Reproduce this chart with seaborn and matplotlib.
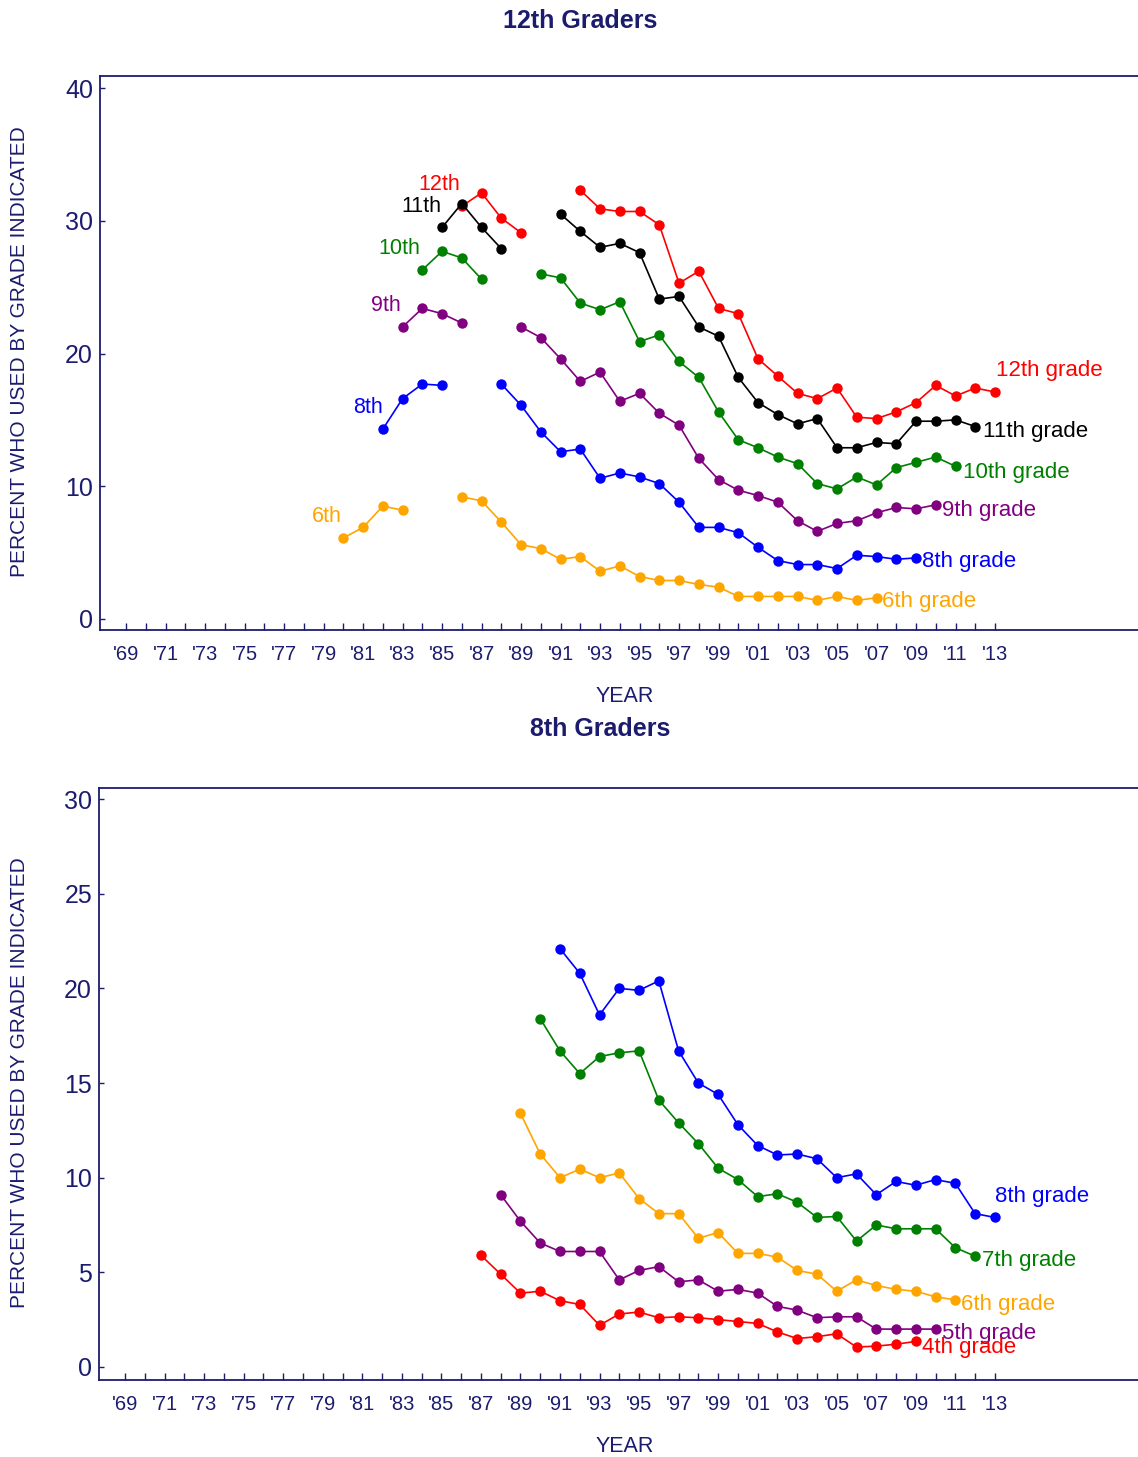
import numpy as np
import pandas as pd
import matplotlib
matplotlib.use("Agg")
import matplotlib.pyplot as plt
import seaborn as sns

# ---------------- data ----------------
top_grades = ["12th", "11th", "10th", "9th", "8th", "6th"]
top_years = {
    "12th": list(range(1986, 1990)) + list(range(1992, 2014)),
    "11th": list(range(1985, 1989)) + list(range(1991, 2013)),
    "10th": list(range(1984, 1988)) + list(range(1990, 2012)),
    "9th": list(range(1983, 1987)) + list(range(1989, 2011)),
    "8th": list(range(1982, 1986)) + list(range(1988, 2010)),
    "6th": list(range(1980, 1984)) + list(range(1986, 2008)),
}
top_values = {
    "12th": [31.1, 32.1, 30.2, 29.1,
             32.3, 30.9, 30.7, 30.7, 29.7, 25.3, 26.2, 23.4, 23.0, 19.6, 18.3,
             17.0, 16.6, 17.4, 15.2, 15.1, 15.6, 16.3, 17.6, 16.8, 17.4, 17.1],
    "11th": [29.5, 31.3, 29.5, 27.9,
             30.5, 29.2, 28.0, 28.3, 27.6, 24.1, 24.3, 22.0, 21.3, 18.2, 16.3,
             15.4, 14.7, 15.1, 12.9, 12.9, 13.3, 13.2, 14.9, 14.9, 15.0, 14.5],
    "10th": [26.3, 27.7, 27.2, 25.6,
             26.0, 25.7, 23.8, 23.3, 23.9, 20.9, 21.4, 19.4, 18.2, 15.6, 13.5,
             12.9, 12.2, 11.7, 10.2, 9.8, 10.7, 10.1, 11.4, 11.8, 12.2, 11.5],
    "9th": [22.0, 23.4, 23.0, 22.3,
            22.0, 21.2, 19.6, 17.9, 18.6, 16.4, 17.0, 15.5, 14.6, 12.1, 10.5,
            9.7, 9.3, 8.8, 7.4, 6.6, 7.2, 7.4, 8.0, 8.4, 8.3, 8.6],
    "8th": [14.3, 16.6, 17.7, 17.6,
            17.7, 16.1, 14.1, 12.6, 12.8, 10.6, 11.0, 10.7, 10.2, 8.8, 6.9,
            6.9, 6.5, 5.4, 4.4, 4.1, 4.1, 3.8, 4.8, 4.7, 4.5, 4.6],
    "6th": [6.1, 6.9, 8.5, 8.2,
            9.2, 8.9, 7.3, 5.6, 5.3, 4.5, 4.7, 3.6, 4.0, 3.2, 2.9,
            2.9, 2.6, 2.4, 1.7, 1.7, 1.7, 1.7, 1.4, 1.7, 1.4, 1.6],
}

bot_grades = ["8th", "7th", "6th", "5th", "4th"]
bot_years = {
    "8th": list(range(1991, 2014)),
    "7th": list(range(1990, 2013)),
    "6th": list(range(1989, 2012)),
    "5th": list(range(1988, 2011)),
    "4th": list(range(1987, 2010)),
}
bot_values = {
    "8th": [22.1, 20.8, 18.6, 20.0, 19.9, 20.4, 16.7, 15.0, 14.4, 12.8, 11.7, 11.2,
            11.25, 11.0, 10.0, 10.2, 9.1, 9.8, 9.6, 9.9, 9.7, 8.1, 7.9],
    "7th": [18.4, 16.7, 15.5, 16.4, 16.6, 16.7, 14.1, 12.9, 11.8, 10.5, 9.9, 9.0,
            9.15, 8.7, 7.9, 7.95, 6.65, 7.5, 7.3, 7.3, 7.3, 6.3, 5.85],
    "6th": [13.4, 11.25, 10.0, 10.45, 10.0, 10.25, 8.9, 8.1, 8.1, 6.8, 7.1, 6.0,
            6.0, 5.8, 5.1, 4.9, 4.0, 4.6, 4.3, 4.1, 4.0, 3.7, 3.55],
    "5th": [9.1, 7.7, 6.55, 6.1, 6.1, 6.1, 4.6, 5.1, 5.3, 4.5, 4.6, 4.0,
            4.1, 3.9, 3.2, 3.0, 2.6, 2.65, 2.65, 2.0, 2.0, 2.0, 2.0],
    "4th": [5.9, 4.9, 3.9, 4.0, 3.5, 3.3, 2.2, 2.8, 2.9, 2.6, 2.65, 2.6,
            2.5, 2.4, 2.3, 1.85, 1.5, 1.6, 1.75, 1.05, 1.1, 1.2, 1.35],
}

x_tick_years = list(range(1969, 2014, 2))
x_tick_labels = ["'" + str(y)[2:] for y in x_tick_years]

colors = {"12th": "#FF0000", "11th": "#000000", "10th": "#008000",
          "9th": "#800080", "8th": "#0000FF", "7th": "#008000",
          "6th": "#FFA500", "5th": "#800080", "4th": "#FF0000"}

NAVY = "#1c1c6e"


def build_df(grades, years, values):
    rows = []
    for g in grades:
        seg = 0
        prev = None
        for y, v in zip(years[g], values[g]):
            if prev is not None and y - prev > 1:
                seg += 1
            rows.append({"grade": g, "year": y, "value": v, "seg": f"{g}-{seg}"})
            prev = y
    return pd.DataFrame(rows)


df_top = build_df(top_grades, top_years, top_values)
df_bot = build_df(bot_grades, bot_years, bot_values)

# ---------------- figure ----------------
sns.set_theme(style="white")
plt.rcParams["font.family"] = ["Liberation Sans", "DejaVu Sans"]

W, H = 1138, 1457
fig = plt.figure(figsize=(W / 100, H / 100), dpi=100)

ax1 = fig.add_axes([100 / W, 1 - 630 / H, 1 - 100 / W, (630 - 75.7) / H])
ax2 = fig.add_axes([99 / W, 1 - 1380 / H, 1 - 99 / W, (1380 - 788) / H])


def draw(ax, df, grades):
    pal = {g: colors[g] for g in grades}
    sns.lineplot(data=df, x="year", y="value", hue="grade", units="seg",
                 estimator=None, palette=pal, marker="o", markersize=7.5,
                 markeredgewidth=0, linewidth=1.2, legend=False, ax=ax,
                 sort=True)


draw(ax1, df_top, top_grades)
draw(ax2, df_bot, bot_grades)

for ax in (ax1, ax2):
    ax.set_xlim(1967.68, 2020.24)
    ax.set_xticks(x_tick_years)
    ax.set_xticklabels(x_tick_labels)
    ax.set_xticks(list(range(1970, 2013, 2)), minor=True)
    ax.tick_params(axis="x", which="both", direction="in", length=5, width=1,
                   color=NAVY, labelcolor=NAVY, labelsize=14.5, pad=11, bottom=True)
    ax.tick_params(axis="y", direction="in", length=3.5, width=1, color=NAVY,
                   labelcolor=NAVY, labelsize=18, pad=5, left=True)
    for s in ("left", "bottom", "top"):
        ax.spines[s].set_color(NAVY)
        ax.spines[s].set_linewidth(1.3)
    ax.spines["right"].set_visible(False)
    ax.set_xlabel("")
    ax.set_ylabel("")
    ax.grid(False)

ax1.set_ylim(-0.83, 40.93)
ax1.set_yticks([0, 10, 20, 30, 40])
ax2.set_ylim(-0.69, 30.59)
ax2.set_yticks([0, 5, 10, 15, 20, 25, 30])

# start labels (top)
start_labels = [("12th", 1985.9, 32.7), ("11th", 1984.95, 31.1),
                ("10th", 1983.9, 27.9), ("9th", 1982.9, 23.6),
                ("8th", 1982.0, 15.9), ("6th", 1979.9, 7.7)]
for g, x, y in start_labels:
    ax1.text(x, y, g, color=colors[g], fontsize=15.5, ha="right", va="center")

end_top = [("12th", 2013.05, 18.7), ("11th", 2012.4, 14.1),
           ("10th", 2011.4, 11.05), ("9th", 2010.3, 8.2),
           ("8th", 2009.3, 4.3), ("6th", 2007.3, 1.3)]
for g, x, y in end_top:
    ax1.text(x, y, g + " grade", color=colors[g], fontsize=16, ha="left", va="center")

end_bot = [("8th", 2013.0, 9.0), ("7th", 2012.35, 5.6), ("6th", 2011.3, 3.3),
           ("5th", 2010.3, 1.75), ("4th", 2009.3, 1.05)]
for g, x, y in end_bot:
    ax2.text(x, y, g + " grade", color=colors[g], fontsize=16, ha="left", va="center")

# titles and axis labels
fig.text(580 / W, 1 - 21 / H, "12th Graders", color=NAVY, fontsize=18,
         fontweight="bold", ha="center", va="center")
fig.text(600 / W, 1 - 729 / H, "8th Graders", color=NAVY, fontsize=18,
         fontweight="bold", ha="center", va="center")
fig.text(625 / W, 1 - 697 / H, "YEAR", color=NAVY, fontsize=15.5,
         ha="center", va="center")
fig.text(625 / W, 1 - 1446 / H, "YEAR", color=NAVY, fontsize=15.5,
         ha="center", va="center")
fig.text(20 / W, 1 - 352 / H, "PERCENT WHO USED BY GRADE INDICATED", color=NAVY,
         fontsize=15, rotation=90, ha="center", va="center")
fig.text(20 / W, 1 - 1083 / H, "PERCENT WHO USED BY GRADE INDICATED", color=NAVY,
         fontsize=15, rotation=90, ha="center", va="center")

fig.savefig("out.png", dpi=100, facecolor="white")
